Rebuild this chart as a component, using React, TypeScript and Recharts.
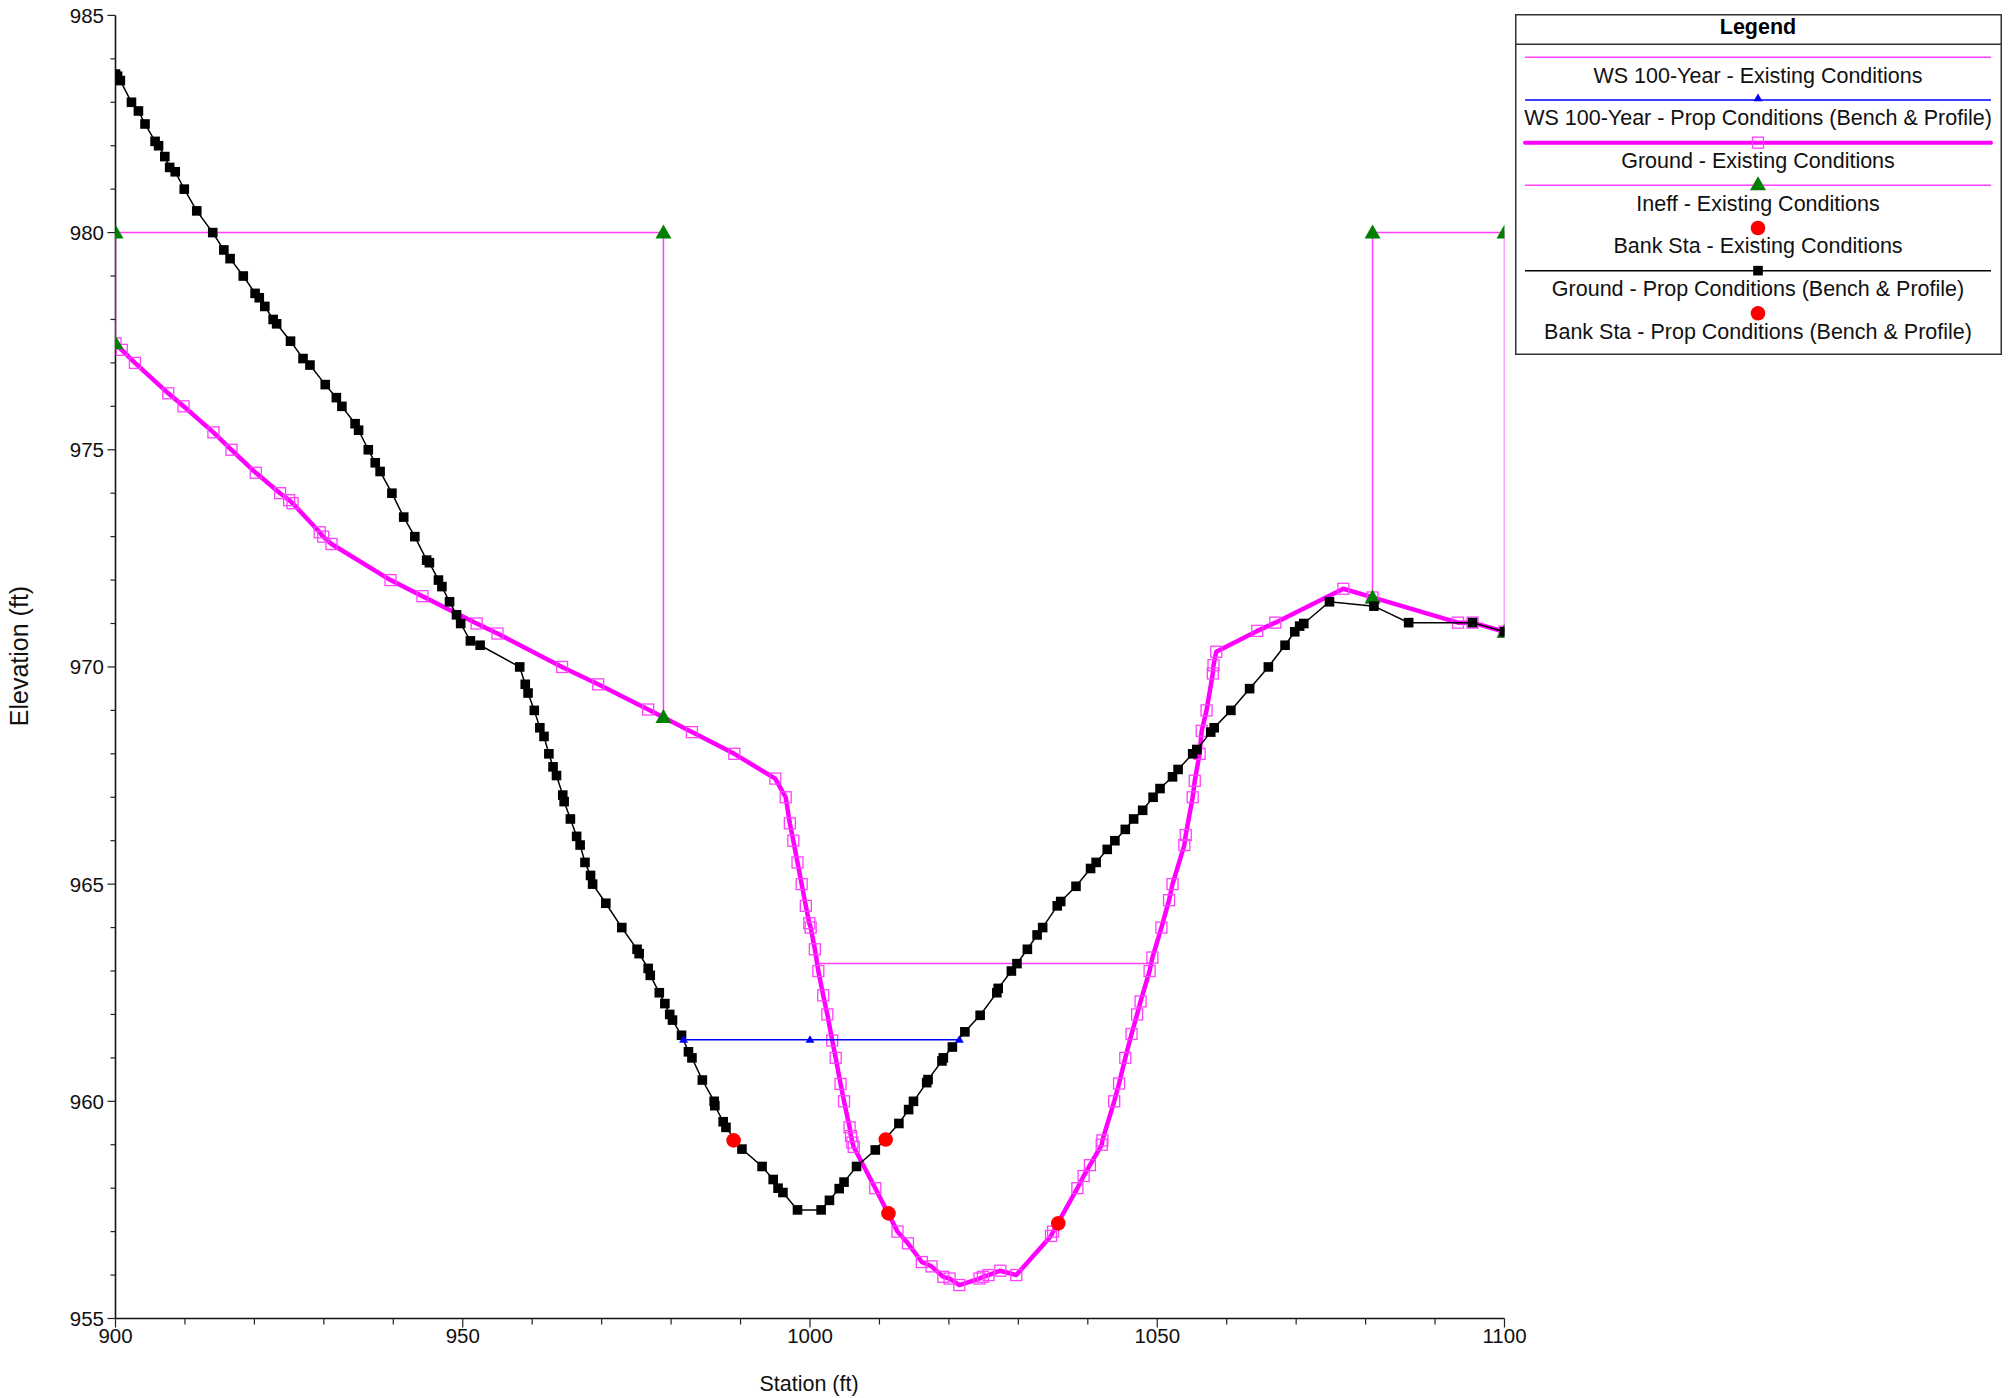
import React from "react";
import { ScatterChart, Scatter, XAxis, YAxis, Legend, Label } from "recharts";

// station / elevation pairs
const groundPropSta = [
  900.0, 900.3, 900.7, 902.3, 903.3, 904.25, 905.7, 906.2, 907.1, 907.8, 908.6, 909.9, 911.7, 914.0,
  915.6, 916.5, 918.4, 920.1, 920.7, 921.5, 922.7, 923.2, 925.2, 927.0, 928.0, 930.2, 931.8, 932.6,
  934.5, 935.0, 936.4, 937.4, 938.1, 939.8, 941.5, 943.1, 944.8, 945.2, 946.5, 947.0, 948.1, 949.1,
  949.7, 951.1, 952.5, 958.2, 959.0, 959.4, 960.3, 961.1, 961.7, 962.4, 963.0, 963.5, 964.4, 964.6,
  965.5, 966.4, 966.9, 967.6, 968.4, 968.7, 970.6, 972.9, 975.1, 975.4, 976.7, 977.0, 978.3, 979.1,
  979.8, 980.2, 981.5, 982.5, 983.0, 984.5, 986.2, 986.3, 987.5, 987.9, 990.2, 993.1, 994.7, 995.4,
  996.1, 998.2, 1001.6, 1002.8, 1004.2, 1004.9, 1006.7, 1009.4, 1012.8, 1014.2, 1014.9, 1016.8,
  1017.0, 1019.0, 1019.2, 1020.5, 1022.3, 1024.5, 1026.9, 1027.1, 1029.0, 1029.8, 1031.3, 1032.7,
  1033.5, 1035.6, 1036.1, 1038.3, 1040.4, 1041.2, 1042.8, 1043.9, 1045.4, 1046.6, 1047.9, 1049.4,
  1050.4, 1052.2, 1053.0, 1055.1, 1055.7, 1057.7, 1058.2, 1060.6, 1063.3, 1066.0, 1068.4, 1069.8,
  1070.5, 1071.1, 1074.8, 1081.2, 1086.2, 1095.4, 1100.0,
];
const groundPropElev = [
  983.65, 983.6, 983.5, 983.0, 982.8, 982.5, 982.1, 982.0, 981.75, 981.5, 981.4, 981.0, 980.5, 980.0,
  979.6, 979.4, 979.0, 978.6, 978.5, 978.3, 978.0, 977.9, 977.5, 977.1, 976.95, 976.5, 976.2, 976.0,
  975.6, 975.45, 975.0, 974.7, 974.5, 974.0, 973.45, 973.0, 972.46, 972.4, 972.0, 971.85, 971.5, 971.2,
  971.0, 970.6, 970.5, 970.0, 969.6, 969.4, 969.0, 968.6, 968.4, 968.0, 967.7, 967.5, 967.05, 966.9,
  966.5, 966.1, 965.9, 965.5, 965.2, 965.0, 964.56, 964.0, 963.5, 963.4, 963.06, 962.9, 962.5, 962.25,
  962.0, 961.87, 961.52, 961.14, 961.0, 960.49, 960.0, 959.9, 959.53, 959.4, 958.9, 958.5, 958.2, 958.0,
  957.9, 957.5, 957.5, 957.72, 957.99, 958.14, 958.5, 958.88, 959.49, 959.81, 960.0, 960.43,
  960.5, 960.93, 961.0, 961.25, 961.6, 961.98, 962.5, 962.6, 963.0, 963.17, 963.5, 963.83,
  964.0, 964.5, 964.6, 964.95, 965.36, 965.5, 965.8, 966.0, 966.26, 966.5, 966.7, 967.0,
  967.2, 967.47, 967.64, 968.0, 968.1, 968.5, 968.6, 969.0, 969.5, 970.0, 970.5, 970.81,
  970.94, 971.0, 971.5, 971.4, 971.02, 971.02, 970.81,
];

const groundExistSta = [
  900.0, 900.9, 902.8, 907.6, 909.8, 914.1, 916.7, 920.2, 923.7, 925.0, 925.5, 929.4, 929.9, 931.1,
  939.6, 944.2, 952.0, 955.0, 964.3, 969.5, 976.7, 983.0, 989.1, 995.0, 996.5, 997.1, 997.6, 998.2,
  998.8, 999.4, 999.9, 1000.1, 1000.7, 1001.2, 1001.9, 1002.5, 1003.2, 1003.7, 1004.4, 1004.9, 1005.7,
  1005.9, 1006.1, 1006.3, 1009.4, 1012.6, 1014.1, 1016.1, 1017.5, 1019.2, 1020.1, 1021.5, 1024.4,
  1024.9, 1025.7, 1027.4, 1029.7, 1034.7, 1035.0, 1038.5, 1039.4, 1040.3, 1042.0, 1042.1, 1043.8,
  1044.5, 1045.4, 1046.3, 1047.1, 1047.6, 1048.9, 1049.3, 1050.6, 1051.7, 1052.2, 1053.9, 1054.1,
  1055.1, 1055.4, 1056.1, 1056.4, 1057.1, 1058.0, 1058.1, 1058.5, 1064.4, 1067.0, 1076.8, 1081.0,
  1093.3, 1095.4, 1100.0,
];
const groundExistElev = [
  977.45, 977.3, 977.0, 976.3, 976.0, 975.4, 975.0, 974.47, 974.0, 973.84, 973.77, 973.1, 973.0, 972.83,
  972.0, 971.63, 971.0, 970.77, 970.0, 969.6, 969.02, 968.5, 968.0, 967.43, 967.0, 966.4, 966.0, 965.5,
  965.0, 964.5, 964.1, 964.0, 963.5, 963.0, 962.44, 962.0, 961.4, 961.0, 960.4, 960.0, 959.4,
  959.2, 959.05, 958.95, 958.0, 957.0, 956.73, 956.3, 956.2, 955.96, 955.92, 955.77, 955.92,
  955.96, 956.0, 956.1, 956.0, 956.9, 957.0, 958.0, 958.28, 958.53, 959.0, 959.1, 960.0,
  960.41, 961.0, 961.55, 962.0, 962.3, 963.0, 963.31, 964.0, 964.63, 965.0, 965.9, 966.13,
  967.0, 967.38, 968.0, 968.53, 969.0, 969.85, 970.04, 970.35, 970.83, 971.02, 971.8, 971.6,
  971.02, 971.02, 970.81,
];

const wsExistSta = [1001.2, 1048.9];
const wsExistElev = [963.17, 963.17];

const wsPropSta = [981.8, 1000.0, 1021.5];
const wsPropElev = [961.42, 961.42, 961.42];

const ineffLeftSta = [900.0, 900.0, 978.9, 978.9];
const ineffLeftElev = [977.45, 980.0, 980.0, 968.85];
const ineffRightSta = [1081.0, 1081.0, 1100.0, 1100.0];
const ineffRightElev = [971.6, 980.0, 980.0, 970.81];

const bankExistSta = [1011.3, 1035.75];
const bankExistElev = [957.42, 957.19];

const bankPropSta = [989.0, 1010.9];
const bankPropElev = [959.1, 959.12];

const xTicks = [
  900, 910, 920, 930, 940, 950, 960, 970, 980, 990, 1000, 1010, 1020, 1030, 1040, 1050, 1060, 1070,
  1080, 1090, 1100,
];
const yTicks = [
  955, 956, 957, 958, 959, 960, 961, 962, 963, 964, 965, 966, 967, 968, 969, 970, 971, 972, 973, 974,
  975, 976, 977, 978, 979, 980, 981, 982, 983, 984, 985,
];

const legendNames = [
  "WS 100-Year - Existing Conditions",
  "WS 100-Year - Prop Conditions (Bench & Profile)",
  "Ground - Existing Conditions",
  "Ineff - Existing Conditions",
  "Bank Sta - Existing Conditions",
  "Ground - Prop Conditions (Bench & Profile)",
  "Bank Sta - Prop Conditions (Bench & Profile)",
];

const zip = (sta: number[], elev: number[]) => sta.map((x, i) => ({ x, y: elev[i] }));

const FONT = '"Liberation Sans", Arial, sans-serif';
const MAGENTA = "#ff00ff";
const THIN_MAGENTA = "#ff40ff";

const noMark = () => <g />;
const openSquare = (p: any) => (
  <rect x={p.cx - 5.5} y={p.cy - 5.5} width={11} height={11} fill="none" stroke={THIN_MAGENTA} strokeWidth={1.3} />
);
const blackSquare = (p: any) => <rect x={p.cx - 4.8} y={p.cy - 4.8} width={9.6} height={9.6} fill="#000" />;
const greenTriangle = (p: any) => (
  <polygon points={`${p.cx},${p.cy - 8} ${p.cx - 8},${p.cy + 6} ${p.cx + 8},${p.cy + 6}`} fill="#008000" />
);
const blueTriangle = (p: any) => (
  <polygon points={`${p.cx},${p.cy - 4.5} ${p.cx - 4.5},${p.cy + 3.2} ${p.cx + 4.5},${p.cy + 3.2}`} fill="#0000ff" />
);
const redCircle = (p: any) => <circle cx={p.cx} cy={p.cy} r={7.3} fill="#ff0000" />;

const XTick = (props: any) => {
  const { x, y, payload } = props;
  const major = payload.value % 50 === 0;
  return (
    <g>
      <line x1={x} x2={x} y1={y} y2={y + (major ? 9 : 6)} stroke="#222" strokeWidth={1.2} />
      {major && (
        <text x={x} y={y + 24} textAnchor="middle" fontFamily={FONT} fontSize={20.5} fill="#111">
          {payload.value}
        </text>
      )}
    </g>
  );
};

const YTick = (props: any) => {
  const { x, y, payload } = props;
  const major = payload.value % 5 === 0;
  return (
    <g>
      <line x1={x - (major ? 8 : 5)} x2={x} y1={y} y2={y} stroke="#222" strokeWidth={1.2} />
      {major && (
        <text x={x - 11.5} y={y + 7.5} textAnchor="end" fontFamily={FONT} fontSize={20.5} fill="#111">
          {payload.value}
        </text>
      )}
    </g>
  );
};

const LegendSymbol = ({ i, cx, cy }: { i: number; cx: number; cy: number }) => {
  const x1 = 10;
  const x2 = 476;
  switch (i) {
    case 0:
      return <line x1={x1} x2={x2} y1={cy} y2={cy} stroke={THIN_MAGENTA} strokeWidth={1.5} />;
    case 1:
      return (
        <g>
          <line x1={x1} x2={x2} y1={cy} y2={cy} stroke="#0000ff" strokeWidth={1.5} />
          {blueTriangle({ cx, cy: cy - 2 })}
        </g>
      );
    case 2:
      return (
        <g>
          <line x1={x1} x2={x2} y1={cy} y2={cy} stroke={MAGENTA} strokeWidth={4} strokeLinecap="round" />
          {openSquare({ cx, cy })}
        </g>
      );
    case 3:
      return (
        <g>
          <line x1={x1} x2={x2} y1={cy} y2={cy} stroke={THIN_MAGENTA} strokeWidth={1.5} />
          {greenTriangle({ cx, cy: cy - 1 })}
        </g>
      );
    case 5:
      return (
        <g>
          <line x1={x1} x2={x2} y1={cy} y2={cy} stroke="#000" strokeWidth={1.5} />
          {blackSquare({ cx, cy })}
        </g>
      );
    default:
      return redCircle({ cx, cy });
  }
};

const LegendBox = () => {
  const w = 487;
  const h = 341;
  const cx = 243;
  return (
    <svg width={w} height={h} style={{ display: "block" }}>
      <rect x={0.75} y={0.75} width={w - 1.5} height={h - 1.5} fill="#fff" stroke="#333" strokeWidth={1.5} />
      <text x={cx} y={13} textAnchor="middle" dominantBaseline="central" fontFamily={FONT} fontSize={21.5} fontWeight="bold" fill="#000">
        Legend
      </text>
      <line x1={0} x2={w} y1={30.3} y2={30.3} stroke="#333" strokeWidth={1.5} />
      {legendNames.map((name, i) => (
        <g key={name}>
          <LegendSymbol i={i} cx={cx} cy={43.3 + 42.67 * i} />
          <text x={cx} y={61.7 + 42.67 * i} textAnchor="middle" dominantBaseline="central" fontFamily={FONT} fontSize={21.5} fill="#111">
            {name}
          </text>
        </g>
      ))}
    </svg>
  );
};

export default function App() {
  return (
    <div style={{ position: "absolute", left: 0, top: 0, background: "#fff" }}>
      <ScatterChart
        width={2005}
        height={1398}
        margin={{ top: 15.4, right: 500.5, bottom: 19.5, left: 0 }}
      >
        <XAxis
          type="number"
          dataKey="x"
          domain={[900, 1100]}
          ticks={xTicks}
          interval={0}
          allowDataOverflow
          height={60}
          axisLine={{ stroke: "#111", strokeWidth: 1.6 }}
          tickLine={false}
          tickSize={0}
          tickMargin={0}
          tick={(p: any) => <XTick {...p} />}
        >
          <Label
            content={(p: any) => (
              <text
                x={p.viewBox.x + p.viewBox.width / 2 - 1}
                y={1384}
                textAnchor="middle"
                dominantBaseline="central"
                fontFamily={FONT}
                fontSize={21.5}
                fill="#111"
              >
                Station (ft)
              </text>
            )}
          />
        </XAxis>
        <YAxis
          type="number"
          dataKey="y"
          domain={[955, 985]}
          ticks={yTicks}
          interval={0}
          allowDataOverflow
          width={115.5}
          axisLine={{ stroke: "#111", strokeWidth: 1.6 }}
          tickLine={false}
          tickSize={0}
          tickMargin={0}
          tick={(p: any) => <YTick {...p} />}
        >
          <Label
            content={() => (
              <text
                x={19}
                y={656}
                transform="rotate(-90 19 656)"
                textAnchor="middle"
                dominantBaseline="central"
                fontFamily={FONT}
                fontSize={25}
                fill="#111"
              >
                Elevation (ft)
              </text>
            )}
          />
        </YAxis>
        <Scatter
          name={legendNames[2]}
          data={zip(groundExistSta, groundExistElev)}
          line={{ stroke: MAGENTA, strokeWidth: 4.5, strokeLinejoin: "round" }}
          shape={openSquare}
          isAnimationActive={false}
        />
        <Scatter
          name={legendNames[0]}
          data={zip(wsExistSta, wsExistElev)}
          line={{ stroke: THIN_MAGENTA, strokeWidth: 1.5 }}
          shape={noMark}
          isAnimationActive={false}
        />
        <Scatter
          name={legendNames[3]}
          data={zip(ineffLeftSta, ineffLeftElev)}
          line={{ stroke: THIN_MAGENTA, strokeWidth: 1.5 }}
          shape={greenTriangle}
          isAnimationActive={false}
        />
        <Scatter
          name={legendNames[3] + " R"}
          data={zip(ineffRightSta, ineffRightElev)}
          line={{ stroke: THIN_MAGENTA, strokeWidth: 1.5 }}
          shape={greenTriangle}
          isAnimationActive={false}
        />
        <Scatter
          name={legendNames[5]}
          data={zip(groundPropSta, groundPropElev)}
          line={{ stroke: "#000", strokeWidth: 1.5 }}
          shape={blackSquare}
          isAnimationActive={false}
        />
        <Scatter
          name={legendNames[1]}
          data={zip(wsPropSta, wsPropElev)}
          line={{ stroke: "#0000ff", strokeWidth: 1.5 }}
          shape={blueTriangle}
          isAnimationActive={false}
        />
        <Scatter
          name={legendNames[4]}
          data={zip(bankExistSta, bankExistElev)}
          shape={redCircle}
          isAnimationActive={false}
        />
        <Scatter
          name={legendNames[6]}
          data={zip(bankPropSta, bankPropElev)}
          shape={redCircle}
          isAnimationActive={false}
        />
        <Legend
          layout="vertical"
          align="center"
          verticalAlign="middle"
          content={() => <LegendBox />}
          wrapperStyle={{ left: 1515, top: 14, width: 487, height: 341 }}
        />
      </ScatterChart>
    </div>
  );
}
